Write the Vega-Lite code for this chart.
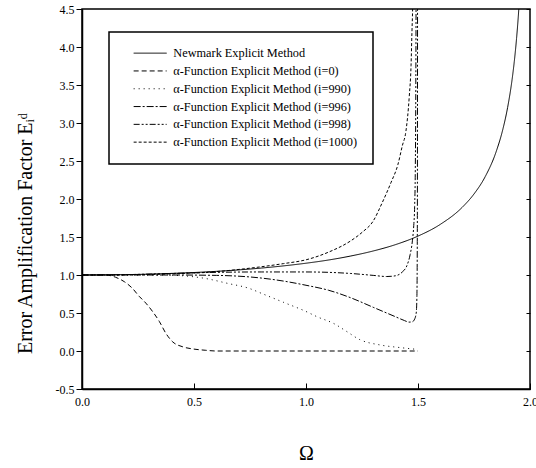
{
  "$schema": "https://vega.github.io/schema/vega-lite/v6.json",
  "width": 448,
  "height": 380,
  "autosize": {"type": "none"},
  "padding": {"left": 82, "top": 9, "right": 6, "bottom": 79},
  "config": {
    "font": "Liberation Serif",
    "view": {"stroke": "black", "strokeWidth": 1.5},
    "axis": {
      "grid": false,
      "domainColor": "black",
      "domainWidth": 1.5,
      "tickColor": "black",
      "tickWidth": 1,
      "labelColor": "black",
      "titleColor": "black",
      "labelFont": "Liberation Serif",
      "titleFont": "Liberation Serif",
      "labelFontSize": 12,
      "titleFontWeight": "normal"
    }
  },
  "data": {
    "values": [
      {"s": "Newmark Explicit Method", "x": 0, "y": 1.0},
      {"s": "Newmark Explicit Method", "x": 0.2, "y": 1.005},
      {"s": "Newmark Explicit Method", "x": 0.4, "y": 1.021},
      {"s": "Newmark Explicit Method", "x": 0.6, "y": 1.048},
      {"s": "Newmark Explicit Method", "x": 0.8, "y": 1.091},
      {"s": "Newmark Explicit Method", "x": 1.0, "y": 1.155},
      {"s": "Newmark Explicit Method", "x": 1.1, "y": 1.197},
      {"s": "Newmark Explicit Method", "x": 1.2, "y": 1.25},
      {"s": "Newmark Explicit Method", "x": 1.3, "y": 1.316},
      {"s": "Newmark Explicit Method", "x": 1.4, "y": 1.4},
      {"s": "Newmark Explicit Method", "x": 1.5, "y": 1.512},
      {"s": "Newmark Explicit Method", "x": 1.6, "y": 1.667},
      {"s": "Newmark Explicit Method", "x": 1.7, "y": 1.898},
      {"s": "Newmark Explicit Method", "x": 1.75, "y": 2.066},
      {"s": "Newmark Explicit Method", "x": 1.8, "y": 2.294},
      {"s": "Newmark Explicit Method", "x": 1.85, "y": 2.632},
      {"s": "Newmark Explicit Method", "x": 1.88, "y": 2.931},
      {"s": "Newmark Explicit Method", "x": 1.9, "y": 3.203},
      {"s": "Newmark Explicit Method", "x": 1.92, "y": 3.571},
      {"s": "Newmark Explicit Method", "x": 1.93, "y": 3.813},
      {"s": "Newmark Explicit Method", "x": 1.94, "y": 4.113},
      {"s": "Newmark Explicit Method", "x": 1.95, "y": 4.5},
      {"s": "Newmark Explicit Method", "x": 1.96, "y": 5.025},

      {"s": "α-Function Explicit Method (i=0)", "x": 0, "y": 1.0},
      {"s": "α-Function Explicit Method (i=0)", "x": 0.1, "y": 1.0},
      {"s": "α-Function Explicit Method (i=0)", "x": 0.13, "y": 0.99},
      {"s": "α-Function Explicit Method (i=0)", "x": 0.15, "y": 0.97},
      {"s": "α-Function Explicit Method (i=0)", "x": 0.19, "y": 0.91},
      {"s": "α-Function Explicit Method (i=0)", "x": 0.225, "y": 0.825},
      {"s": "α-Function Explicit Method (i=0)", "x": 0.255, "y": 0.72},
      {"s": "α-Function Explicit Method (i=0)", "x": 0.285, "y": 0.63},
      {"s": "α-Function Explicit Method (i=0)", "x": 0.315, "y": 0.52},
      {"s": "α-Function Explicit Method (i=0)", "x": 0.345, "y": 0.39},
      {"s": "α-Function Explicit Method (i=0)", "x": 0.375, "y": 0.23},
      {"s": "α-Function Explicit Method (i=0)", "x": 0.405, "y": 0.12},
      {"s": "α-Function Explicit Method (i=0)", "x": 0.45, "y": 0.055},
      {"s": "α-Function Explicit Method (i=0)", "x": 0.5, "y": 0.025},
      {"s": "α-Function Explicit Method (i=0)", "x": 0.55, "y": 0.01},
      {"s": "α-Function Explicit Method (i=0)", "x": 0.6, "y": 0.0},
      {"s": "α-Function Explicit Method (i=0)", "x": 1.0, "y": 0.0},
      {"s": "α-Function Explicit Method (i=0)", "x": 1.5, "y": 0.0},

      {"s": "α-Function Explicit Method (i=990)", "x": 0, "y": 1.0},
      {"s": "α-Function Explicit Method (i=990)", "x": 0.2, "y": 1.0},
      {"s": "α-Function Explicit Method (i=990)", "x": 0.35, "y": 1.0},
      {"s": "α-Function Explicit Method (i=990)", "x": 0.45, "y": 0.99},
      {"s": "α-Function Explicit Method (i=990)", "x": 0.55, "y": 0.955},
      {"s": "α-Function Explicit Method (i=990)", "x": 0.65, "y": 0.89},
      {"s": "α-Function Explicit Method (i=990)", "x": 0.75, "y": 0.82},
      {"s": "α-Function Explicit Method (i=990)", "x": 0.8, "y": 0.76},
      {"s": "α-Function Explicit Method (i=990)", "x": 0.9, "y": 0.64},
      {"s": "α-Function Explicit Method (i=990)", "x": 1.0, "y": 0.52},
      {"s": "α-Function Explicit Method (i=990)", "x": 1.05, "y": 0.45},
      {"s": "α-Function Explicit Method (i=990)", "x": 1.125, "y": 0.36},
      {"s": "α-Function Explicit Method (i=990)", "x": 1.18, "y": 0.26},
      {"s": "α-Function Explicit Method (i=990)", "x": 1.24, "y": 0.15},
      {"s": "α-Function Explicit Method (i=990)", "x": 1.33, "y": 0.08},
      {"s": "α-Function Explicit Method (i=990)", "x": 1.42, "y": 0.045},
      {"s": "α-Function Explicit Method (i=990)", "x": 1.5, "y": 0.02},

      {"s": "α-Function Explicit Method (i=996)", "x": 0, "y": 1.0},
      {"s": "α-Function Explicit Method (i=996)", "x": 0.2, "y": 1.0},
      {"s": "α-Function Explicit Method (i=996)", "x": 0.4, "y": 1.0},
      {"s": "α-Function Explicit Method (i=996)", "x": 0.6, "y": 0.995},
      {"s": "α-Function Explicit Method (i=996)", "x": 0.8, "y": 0.96},
      {"s": "α-Function Explicit Method (i=996)", "x": 0.9, "y": 0.92},
      {"s": "α-Function Explicit Method (i=996)", "x": 1.0, "y": 0.865},
      {"s": "α-Function Explicit Method (i=996)", "x": 1.1, "y": 0.8},
      {"s": "α-Function Explicit Method (i=996)", "x": 1.2, "y": 0.7},
      {"s": "α-Function Explicit Method (i=996)", "x": 1.3, "y": 0.575},
      {"s": "α-Function Explicit Method (i=996)", "x": 1.4, "y": 0.45},
      {"s": "α-Function Explicit Method (i=996)", "x": 1.44, "y": 0.4},
      {"s": "α-Function Explicit Method (i=996)", "x": 1.46, "y": 0.38},
      {"s": "α-Function Explicit Method (i=996)", "x": 1.475, "y": 0.385},
      {"s": "α-Function Explicit Method (i=996)", "x": 1.485, "y": 0.42},
      {"s": "α-Function Explicit Method (i=996)", "x": 1.492, "y": 0.5},
      {"s": "α-Function Explicit Method (i=996)", "x": 1.495, "y": 0.7},
      {"s": "α-Function Explicit Method (i=996)", "x": 1.4965, "y": 1.2},
      {"s": "α-Function Explicit Method (i=996)", "x": 1.4975, "y": 2.5},
      {"s": "α-Function Explicit Method (i=996)", "x": 1.498, "y": 4.7},

      {"s": "α-Function Explicit Method (i=998)", "x": 0, "y": 1.0},
      {"s": "α-Function Explicit Method (i=998)", "x": 0.2, "y": 1.005},
      {"s": "α-Function Explicit Method (i=998)", "x": 0.4, "y": 1.02},
      {"s": "α-Function Explicit Method (i=998)", "x": 0.6, "y": 1.035},
      {"s": "α-Function Explicit Method (i=998)", "x": 0.8, "y": 1.04},
      {"s": "α-Function Explicit Method (i=998)", "x": 1.0, "y": 1.04},
      {"s": "α-Function Explicit Method (i=998)", "x": 1.1, "y": 1.035},
      {"s": "α-Function Explicit Method (i=998)", "x": 1.2, "y": 1.02},
      {"s": "α-Function Explicit Method (i=998)", "x": 1.3, "y": 0.995},
      {"s": "α-Function Explicit Method (i=998)", "x": 1.36, "y": 0.98},
      {"s": "α-Function Explicit Method (i=998)", "x": 1.4, "y": 0.99},
      {"s": "α-Function Explicit Method (i=998)", "x": 1.43, "y": 1.04},
      {"s": "α-Function Explicit Method (i=998)", "x": 1.45, "y": 1.12},
      {"s": "α-Function Explicit Method (i=998)", "x": 1.465, "y": 1.27},
      {"s": "α-Function Explicit Method (i=998)", "x": 1.475, "y": 1.45},
      {"s": "α-Function Explicit Method (i=998)", "x": 1.481, "y": 1.65},
      {"s": "α-Function Explicit Method (i=998)", "x": 1.485, "y": 1.9},
      {"s": "α-Function Explicit Method (i=998)", "x": 1.488, "y": 2.4},
      {"s": "α-Function Explicit Method (i=998)", "x": 1.49, "y": 3.3},
      {"s": "α-Function Explicit Method (i=998)", "x": 1.4915, "y": 4.7},

      {"s": "α-Function Explicit Method (i=1000)", "x": 0, "y": 1.0},
      {"s": "α-Function Explicit Method (i=1000)", "x": 0.2, "y": 1.003},
      {"s": "α-Function Explicit Method (i=1000)", "x": 0.4, "y": 1.015},
      {"s": "α-Function Explicit Method (i=1000)", "x": 0.6, "y": 1.045},
      {"s": "α-Function Explicit Method (i=1000)", "x": 0.75, "y": 1.09},
      {"s": "α-Function Explicit Method (i=1000)", "x": 0.9, "y": 1.15},
      {"s": "α-Function Explicit Method (i=1000)", "x": 1.0, "y": 1.2},
      {"s": "α-Function Explicit Method (i=1000)", "x": 1.1, "y": 1.3},
      {"s": "α-Function Explicit Method (i=1000)", "x": 1.2, "y": 1.45},
      {"s": "α-Function Explicit Method (i=1000)", "x": 1.25, "y": 1.56},
      {"s": "α-Function Explicit Method (i=1000)", "x": 1.3, "y": 1.71},
      {"s": "α-Function Explicit Method (i=1000)", "x": 1.34, "y": 1.95},
      {"s": "α-Function Explicit Method (i=1000)", "x": 1.38, "y": 2.22},
      {"s": "α-Function Explicit Method (i=1000)", "x": 1.41, "y": 2.45},
      {"s": "α-Function Explicit Method (i=1000)", "x": 1.43, "y": 2.7},
      {"s": "α-Function Explicit Method (i=1000)", "x": 1.446, "y": 2.89},
      {"s": "α-Function Explicit Method (i=1000)", "x": 1.461, "y": 3.35},
      {"s": "α-Function Explicit Method (i=1000)", "x": 1.469, "y": 3.76},
      {"s": "α-Function Explicit Method (i=1000)", "x": 1.473, "y": 4.2},
      {"s": "α-Function Explicit Method (i=1000)", "x": 1.476, "y": 4.5},
      {"s": "α-Function Explicit Method (i=1000)", "x": 1.478, "y": 4.8}
    ]
  },
  "layer": [
    {
      "mark": {"type": "line", "interpolate": "monotone", "clip": true, "color": "black", "strokeWidth": 1},
      "encoding": {
        "x": {
          "field": "x", "type": "quantitative",
          "scale": {"domain": [0, 2], "nice": false},
          "axis": {"title": "Ω", "values": [0, 0.5, 1, 1.5, 2], "format": ".1f", "tickSize": -6, "labelPadding": 13, "labelFont": "Liberation Serif", "titleFontSize": 20, "titlePadding": 36, "labelFlush": false, "labelOverlap": false}
        },
        "y": {
          "field": "y", "type": "quantitative",
          "scale": {"domain": [-0.5, 4.5], "nice": false},
          "axis": {"title": "Error Amplification Factor  Eᵢᵈ", "titleY": 224, "values": [-0.5, 0, 0.5, 1, 1.5, 2, 2.5, 3, 3.5, 4, 4.5], "labelExpr": "replace(format(datum.value, '.1f'), '−', '-')", "labelFont": "Liberation Serif", "tickSize": 6, "labelPadding": 2, "titleFontSize": 20, "titlePadding": 20, "labelFlush": false, "labelOverlap": false}
        },
        "strokeDash": {
          "field": "s", "type": "nominal",
          "scale": {
            "domain": ["Newmark Explicit Method", "α-Function Explicit Method (i=0)", "α-Function Explicit Method (i=990)", "α-Function Explicit Method (i=996)", "α-Function Explicit Method (i=998)", "α-Function Explicit Method (i=1000)"],
            "range": [[1, 0], [5, 3], [1, 4], [7, 2, 2, 2], [6, 2, 2, 2, 2, 2], [3, 2]]
          },
          "legend": {
            "title": null, "orient": "none", "legendX": 27, "legendY": 23,
            "strokeColor": "black", "fillColor": "white", "padding": 15,
            "symbolType": "M-11,0H11", "symbolSize": 9, "symbolStrokeWidth": 1, "symbolStrokeColor": "black",
            "symbolOffset": 20, "labelOffset": 17, "labelFontSize": 12.3, "labelFont": "Liberation Serif", "labelColor": "black",
            "rowPadding": 4.8, "labelLimit": 400,
            "encode": {"legend": {"update": {"strokeWidth": {"value": 1.5}}}}
          }
        }
      }
    },
    {
      "mark": {"type": "line", "strokeOpacity": 0, "clip": true},
      "encoding": {
        "x": {"field": "x", "type": "quantitative", "axis": null},
        "y": {"field": "y", "type": "quantitative", "axis": {"orient": "right", "labels": false, "title": null, "domain": false, "tickSize": -4, "values": [-0.5, 0, 0.5, 1, 1.5, 2, 2.5, 3, 3.5, 4, 4.5]}},
        "detail": {"field": "s"}
      }
    }
  ],
  "resolve": {"axis": {"x": "independent", "y": "independent"}}
}
